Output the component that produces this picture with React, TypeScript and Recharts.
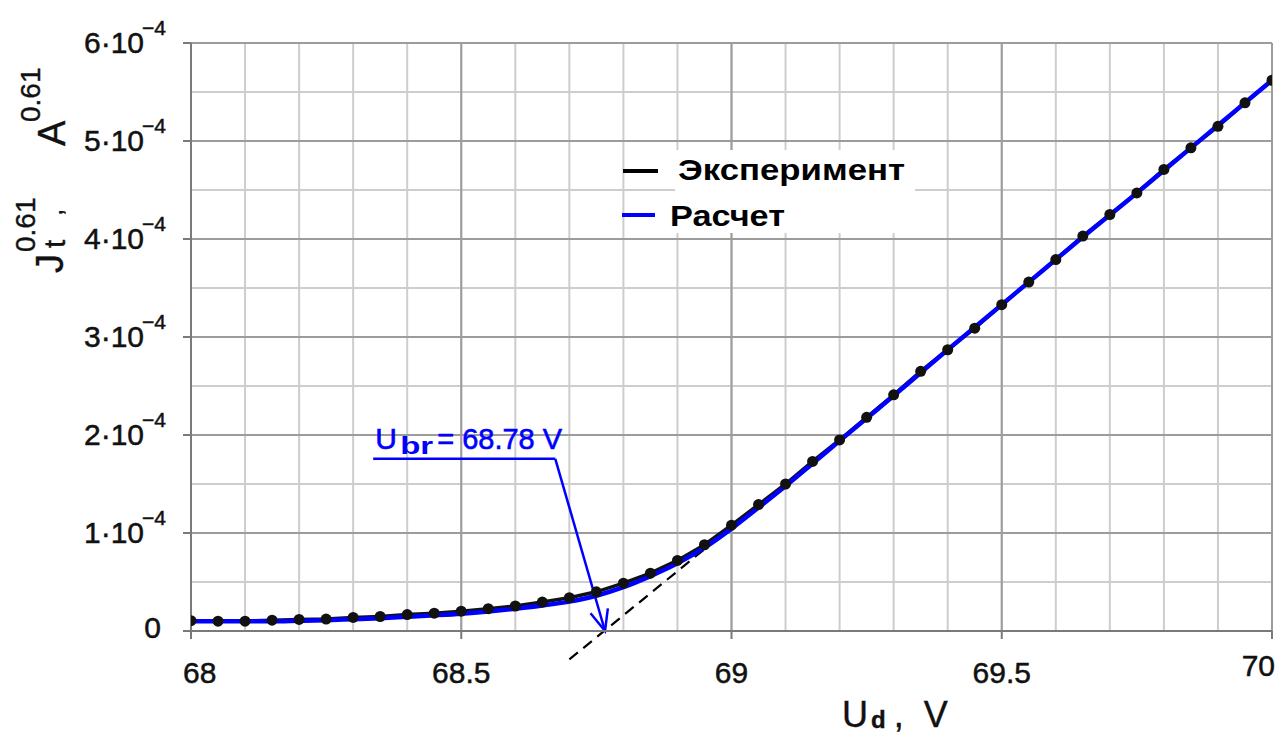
import React from 'react';
import { LineChart, Line, XAxis, YAxis, CartesianGrid, ReferenceLine, Legend } from 'recharts';

// Voltage, V
const U_EXP = [
  68.0, 68.05, 68.1, 68.15, 68.2, 68.25, 68.3, 68.35, 68.4, 68.45,
  68.5, 68.55, 68.6, 68.65, 68.7, 68.75, 68.8, 68.85, 68.9, 68.95,
  69.0, 69.05, 69.1, 69.15, 69.2, 69.25, 69.3, 69.35, 69.4, 69.45,
  69.5, 69.55, 69.6, 69.65, 69.7, 69.75, 69.8, 69.85, 69.9, 69.95, 70.0,
];
// Experiment, Jt^0.61 in units of 1e-4
const J_EXP = [
  0.105, 0.1, 0.1, 0.11, 0.118, 0.122, 0.138, 0.148, 0.168, 0.182,
  0.202, 0.228, 0.255, 0.295, 0.34, 0.4, 0.488, 0.59, 0.72, 0.88,
  1.08, 1.29, 1.5, 1.73, 1.95, 2.18, 2.41, 2.65, 2.87, 3.09,
  3.33, 3.56, 3.79, 4.03, 4.25, 4.47, 4.71, 4.93, 5.15, 5.39, 5.62,
];
const U_CALC = [
  68.0, 68.05, 68.1, 68.15, 68.2, 68.25, 68.3, 68.35, 68.4, 68.45,
  68.5, 68.55, 68.6, 68.65, 68.7, 68.75, 68.8, 68.85, 68.9, 68.95,
  69.0, 69.05, 69.1, 69.15, 69.2, 69.25, 69.3, 69.35, 69.4, 69.45,
  69.5, 69.55, 69.6, 69.65, 69.7, 69.75, 69.8, 69.85, 69.9, 69.95, 70.0,
];
// Calculation, in units of 1e-4
const J_CALC = [
  0.1, 0.1, 0.1, 0.1, 0.105, 0.11, 0.12, 0.13, 0.145, 0.16,
  0.177, 0.2, 0.228, 0.26, 0.3, 0.36, 0.447, 0.56, 0.69, 0.85,
  1.045, 1.26, 1.48, 1.71, 1.94, 2.17, 2.4, 2.635, 2.87, 3.1,
  3.33, 3.56, 3.79, 4.02, 4.245, 4.47, 4.7, 4.93, 5.16, 5.39, 5.62,
];

const X_TICKS = [68, 68.5, 69, 69.5, 70];
const X_MINOR = [68, 68.1, 68.2, 68.3, 68.4, 68.5, 68.6, 68.7, 68.8, 68.9, 69, 69.1, 69.2, 69.3, 69.4, 69.5, 69.6, 69.7, 69.8, 69.9, 70];
const Y_TICKS = [0, 1, 2, 3, 4, 5, 6];
const Y_MINOR = [0, 0.5, 1, 1.5, 2, 2.5, 3, 3.5, 4, 4.5, 5, 5.5, 6];

const UBR_LABEL = '68.78 V';
const TANGENT = [{ x: 68.7, y: -0.29 }, { x: 69.0, y: 1.06 }];
const LEADER_H = [{ x: 68.337, y: 1.757 }, { x: 68.674, y: 1.757 }];
const LEADER_ARROW = [{ x: 68.674, y: 1.757 }, { x: 68.766, y: 0 }];

const expData = U_EXP.map((u, i) => ({ u, j: J_EXP[i] }));
const calcData = U_CALC.map((u, i) => ({ u, j: J_CALC[i] }));

const FONT = '"Liberation Sans", Arial, sans-serif';
const TXT = '#111';
const BLUE = '#0000ff';

const XTick = (props: any) => {
  const { x, y, payload } = props;
  const v = payload.value;
  const first = v === X_TICKS[0];
  const last = v === X_TICKS[X_TICKS.length - 1];
  const anchor = first ? 'start' : last ? 'end' : 'middle';
  const dx = first ? -8 : last ? 3 : 0;
  const dy = last ? 37 : 44;
  return (
    <text x={x + dx} y={y + dy} textAnchor={anchor} fontSize={30} fontFamily={FONT} fill={TXT} stroke={TXT} strokeWidth={0.5}>
      {String(v)}
    </text>
  );
};

const YTick = (props: any) => {
  const { x, y, payload } = props;
  const v = payload.value;
  if (v === 0) {
    return (
      <text x={x - 22} y={y + 7} textAnchor="end" fontSize={30} fontFamily={FONT} fill={TXT} stroke={TXT} strokeWidth={0.5}>0</text>
    );
  }
  return (
    <text x={x - 17} y={y + 10} textAnchor="end" fontSize={30} fontFamily={FONT} fill={TXT} stroke={TXT} strokeWidth={0.5}>
      {v}·10
      <tspan dx={-2} dy={-18} fontSize={21}>−4</tspan>
    </text>
  );
};

const XTitle = () => (
  <text x={842} y={727} fontSize={36} fontFamily={FONT} fill={TXT} stroke={TXT} strokeWidth={0.4}>
    U
    <tspan fontSize={24} dx={3} dy={1} fontWeight="bold">d</tspan>
    <tspan fontSize={36} dx={8} dy={-1}>,</tspan>
    <tspan fontSize={36} dx={20}>V</tspan>
  </text>
);

const YTitle = () => (
  <g transform="translate(65,273) rotate(-90)" fill={TXT} stroke={TXT} strokeWidth={0.4} fontFamily={FONT}>
    <text x={0} y={-2} fontSize={38}>J</text>
    <text x={25} y={0} fontSize={30}>t</text>
    <text x={21} y={-30} fontSize={28}>0.61</text>
    <text x={57} y={-3} fontSize={26}>,</text>
    <text x={127} y={0} fontSize={38}>A</text>
    <text x={151} y={-25} fontSize={28}>0.61</text>
  </g>
);

const LegendBox = () => (
  <svg width={310} height={95} style={{ display: 'block' }}>
    <rect x={60} y={5} width={240} height={83} fill="#fff" />
    <line x1={8} y1={26} x2={43} y2={26} stroke="#000" strokeWidth={4} />
    <text x={63} y={35} fontSize={30} fontWeight="bold" fontFamily={FONT} fill="#000" textLength={227} lengthAdjust="spacingAndGlyphs">Эксперимент</text>
    <line x1={7} y1={70} x2={40} y2={70} stroke={BLUE} strokeWidth={4} />
    <text x={55} y={81} fontSize={30} fontWeight="bold" fontFamily={FONT} fill="#000" textLength={115} lengthAdjust="spacingAndGlyphs">Расчет</text>
  </svg>
);

const LeaderH = (p: any) => {
  const { x1, y1, x2, y2 } = p;
  return (
    <g>
      <line x1={x1} y1={y1} x2={x2} y2={y2} stroke={BLUE} strokeWidth={2.5} />
      <text x={x1 + 2} y={y1 - 10} fontSize={30} fontFamily={FONT} fill={BLUE} stroke={BLUE} strokeWidth={0.6}>U</text>
      <text x={x1 + 27} y={y1 - 5} fontSize={24} fontWeight="bold" fontFamily={FONT} fill={BLUE} textLength={33} lengthAdjust="spacingAndGlyphs">br</text>
      <text x={x1 + 64} y={y1 - 10} fontSize={30} fontFamily={FONT} fill={BLUE} stroke={BLUE} strokeWidth={0.6} textLength={125} lengthAdjust="spacingAndGlyphs">{'= ' + UBR_LABEL}</text>
    </g>
  );
};

const LeaderArrow = (p: any) => {
  const { x1, y1, x2, y2 } = p;
  const dx = x2 - x1;
  const dy = y2 - y1;
  const len = Math.sqrt(dx * dx + dy * dy) || 1;
  const ux = dx / len;
  const uy = dy / len;
  const px = -uy;
  const py = ux;
  const back = 21;
  const half = 9;
  const w1x = x2 - back * ux + half * px;
  const w1y = y2 - back * uy + half * py;
  const w2x = x2 - back * ux - half * px;
  const w2y = y2 - back * uy - half * py;
  return (
    <g stroke={BLUE} strokeWidth={2.5} fill="none">
      <line x1={x1} y1={y1} x2={x2} y2={y2} />
      <polyline points={`${w1x},${w1y} ${x2},${y2} ${w2x},${w2y}`} />
    </g>
  );
};

export default function App() {
  return (
    <div style={{ position: 'absolute', left: 0, top: 0, width: 1280, height: 736, background: '#fff' }}>
      <LineChart width={1280} height={736} margin={{ top: 43, right: 8, bottom: 45, left: 11 }}>
        <XAxis xAxisId="minor" type="number" dataKey="u" domain={[68, 70]} ticks={X_MINOR} hide allowDataOverflow />
        <YAxis yAxisId="minor" type="number" domain={[0, 6]} ticks={Y_MINOR} hide allowDataOverflow />
        <CartesianGrid xAxisId="minor" yAxisId="minor" stroke="#cdcdcd" strokeWidth={2} />
        <CartesianGrid stroke="#9c9c9c" strokeWidth={2} />
        <XAxis
          type="number"
          dataKey="u"
          domain={[68, 70]}
          ticks={X_TICKS}
          interval={0}
          allowDataOverflow
          tick={XTick}
          tickSize={8}
          tickMargin={0}
          tickLine={{ stroke: '#7a7a7a', strokeWidth: 2 }}
          axisLine={{ stroke: '#7a7a7a', strokeWidth: 2 }}
          height={60}
          label={{ content: XTitle }}
        />
        <YAxis
          type="number"
          domain={[0, 6]}
          ticks={Y_TICKS}
          interval={0}
          allowDataOverflow
          tick={YTick}
          tickSize={8}
          tickMargin={0}
          tickLine={{ stroke: '#7a7a7a', strokeWidth: 2 }}
          axisLine={{ stroke: '#7a7a7a', strokeWidth: 2 }}
          width={180}
          label={{ content: YTitle }}
        />
        <ReferenceLine segment={TANGENT} ifOverflow="visible" stroke="#000" strokeWidth={2.2} strokeDasharray="11 7" />
        <Line
          data={expData}
          dataKey="j"
          type="linear"
          stroke="#111"
          strokeWidth={3.5}
          dot={{ r: 5.5, fill: '#111', stroke: 'none' }}
          isAnimationActive={false}
          name="Эксперимент"
        />
        <Line
          data={calcData}
          dataKey="j"
          type="monotone"
          stroke={BLUE}
          strokeWidth={4.5}
          dot={false}
          isAnimationActive={false}
          name="Расчет"
        />
        <ReferenceLine segment={LEADER_H} ifOverflow="visible" shape={LeaderH} />
        <ReferenceLine segment={LEADER_ARROW} ifOverflow="visible" shape={LeaderArrow} />
        <Legend
          layout="vertical"
          align="center"
          verticalAlign="middle"
          wrapperStyle={{ left: 615, top: 145, width: 310, height: 95 }}
          content={LegendBox}
        />
      </LineChart>
    </div>
  );
}
